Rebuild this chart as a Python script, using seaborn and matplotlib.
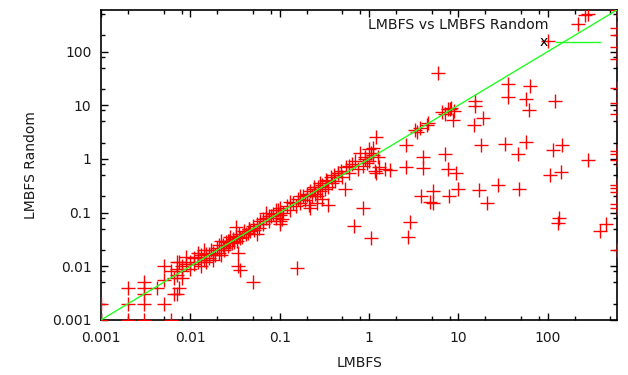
import matplotlib
matplotlib.use("Agg")
import matplotlib.pyplot as plt
import seaborn as sns
from matplotlib.ticker import LogLocator, NullFormatter, FixedLocator, FixedFormatter

# solve times (s): LMBFS vs LMBFS with random order
lmbfs = [
    0.001, 0.002, 0.003, 0.006, 0.001, 0.002, 0.002, 0.003, 0.003, 0.003,
    0.003, 0.0042, 0.005, 0.005, 0.005, 0.0065, 0.0065, 0.007, 0.0075, 0.0075,
    0.008, 0.008, 0.007, 0.006, 0.007, 0.007, 0.008, 0.009, 0.009, 0.01,
    0.01, 0.011, 0.012, 0.012, 0.013, 0.014, 0.015, 0.015, 0.016, 0.017,
    0.018, 0.019, 0.02, 0.021, 0.022, 0.023, 0.024, 0.025, 0.026, 0.027,
    0.028, 0.029, 0.03, 0.031, 0.032, 0.033, 0.035, 0.036, 0.038, 0.04,
    0.042, 0.045, 0.047, 0.05, 0.052, 0.055, 0.058, 0.06, 0.065, 0.07,
    0.075, 0.08, 0.085, 0.09, 0.095, 0.1, 0.1, 0.1, 0.1, 0.105,
    0.11, 0.12, 0.13, 0.14, 0.15, 0.16, 0.17, 0.18, 0.19, 0.2,
    0.21, 0.22, 0.23, 0.24, 0.25, 0.26, 0.27, 0.28, 0.3, 0.3,
    0.32, 0.34, 0.35, 0.37, 0.38, 0.4, 0.42, 0.45, 0.48, 0.5,
    0.55, 0.6, 0.65, 0.7, 0.75, 0.8, 0.85, 0.9, 1.0, 1.0,
    1.05, 1.1, 1.15, 1.2, 1.25, 1.3, 1.5, 1.7, 2.6, 2.6,
    3.3, 3.4, 3.7, 4.0, 4.4, 4.6, 6.6, 7.1, 7.6, 8.0,
    8.3, 8.7, 9.0, 0.011, 0.013, 0.014, 0.016, 0.018, 0.021, 0.024,
    0.026, 0.028, 0.032, 0.034, 0.034, 0.036, 0.044, 0.05, 0.056, 0.07,
    0.075, 0.1, 0.155, 0.2, 0.22, 0.26, 0.28, 0.35, 0.54, 0.68,
    0.85, 1.05, 1.2, 2.7, 2.9, 3.8, 4.0, 4.8, 5.2, 5.2,
    7.1, 7.6, 7.8, 9.5, 9.8, 5.9, 15, 15.5, 15.5, 17,
    18, 19, 21, 28, 33, 36, 36, 46, 48, 57,
    57, 62, 64, 105, 113, 120, 130, 135, 140, 146,
    280, 380, 450, 100, 215, 260, 280, 600, 600, 600,
    600, 600, 600, 600, 600, 600, 600, 600, 600, 600,
    600, 600, 600, 600, 0.012, 0.022, 0.045, 0.065,
    0.09, 0.13, 0.17, 0.24, 0.33, 0.45, 0.6, 0.9, 1.1, 0.95,
]
lmbfs_random = [
    0.001, 0.001, 0.001, 0.001, 0.002, 0.002, 0.004, 0.002, 0.003, 0.004,
    0.005, 0.004, 0.002, 0.0055, 0.01, 0.006, 0.003, 0.003, 0.004, 0.012,
    0.01, 0.006, 0.012, 0.008, 0.007, 0.009, 0.008, 0.011, 0.015, 0.009,
    0.012, 0.011, 0.015, 0.018, 0.01, 0.013, 0.017, 0.012, 0.014, 0.02,
    0.018, 0.016, 0.022, 0.018, 0.03, 0.025, 0.02, 0.028, 0.024, 0.03,
    0.035, 0.027, 0.032, 0.028, 0.036, 0.03, 0.04, 0.033, 0.035, 0.045,
    0.04, 0.05, 0.045, 0.055, 0.048, 0.06, 0.052, 0.07, 0.06, 0.08,
    0.07, 0.085, 0.095, 0.08, 0.11, 0.06, 0.07, 0.09, 0.12, 0.075,
    0.1, 0.13, 0.11, 0.15, 0.13, 0.18, 0.15, 0.2, 0.17, 0.22,
    0.14, 0.25, 0.2, 0.28, 0.22, 0.15, 0.3, 0.25, 0.33, 0.18,
    0.28, 0.38, 0.3, 0.45, 0.35, 0.5, 0.38, 0.55, 0.6, 0.45,
    0.7, 0.55, 0.8, 0.9, 0.65, 1.3, 0.75, 1.1, 1.5, 0.9,
    1.3, 1.6, 0.6, 2.6, 1.1, 0.7, 0.65, 0.63, 1.84, 0.72,
    3.5, 3.2, 3.8, 0.68, 4.3, 4.6, 7.5, 7.0, 8.4, 8.6,
    9.0, 5.2, 7.8, 0.014, 0.016, 0.02, 0.017, 0.013, 0.025, 0.022,
    0.03, 0.028, 0.054, 0.018, 0.01, 0.0085, 0.042, 0.005, 0.04, 0.1,
    0.085, 0.1, 0.0094, 0.21, 0.12, 0.2, 0.35, 0.14, 0.27, 0.057,
    0.12, 0.034, 0.55, 0.035, 0.067, 0.2, 1.1, 0.16, 0.25, 0.15,
    1.25, 0.65, 0.2, 0.55, 0.28, 40, 4.3, 12, 9.6, 0.26,
    1.8, 5.8, 0.15, 0.33, 1.9, 25, 14.5, 1.25, 0.28, 2.1,
    13, 8, 23, 0.51, 1.45, 12.1, 0.065, 0.08, 0.57, 1.8,
    0.94, 0.045, 0.06, 155, 330, 470, 490, 600, 270, 200,
    124, 74, 21, 11, 7, 1.4, 1.25, 0.97, 0.33, 0.29,
    0.24, 0.145, 0.12, 0.02, 0.012, 0.016, 0.05, 0.075,
    0.11, 0.16, 0.2, 0.3, 0.4, 0.55, 0.75, 1.0, 1.2, 0.85,
]
diagonal = [0.001, 600]

fig = plt.figure(figsize=(6.28, 3.75), dpi=100)
ax = fig.add_axes([0.161, 0.147, 0.822, 0.827])

sns.scatterplot(x=lmbfs, y=lmbfs_random, marker="+", color="#ff0000",
                s=110, linewidth=1.0, ax=ax, legend=False, zorder=3)
sns.lineplot(x=diagonal, y=diagonal, color="#22ff22", linewidth=1.0,
             ax=ax, label="x", zorder=4)

ax.set_xscale("log")
ax.set_yscale("log")
ax.set_xlim(0.001, 600)
ax.set_ylim(0.001, 600)

ticks = [0.001, 0.01, 0.1, 1, 10, 100]
labels = ["0.001", "0.01", "0.1", "1", "10", "100"]
for axis in (ax.xaxis, ax.yaxis):
    axis.set_major_locator(FixedLocator(ticks))
    axis.set_major_formatter(FixedFormatter(labels))
    axis.set_minor_locator(LogLocator(base=10, subs=(2, 5, 8)))
    axis.set_minor_formatter(NullFormatter())

ax.tick_params(which="both", direction="in", top=True, right=True,
               colors="black", labelsize=10, labelcolor="#1a1a1a")
ax.tick_params(which="major", length=5, width=1)
ax.tick_params(which="minor", length=3, width=1)
ax.tick_params(axis="x", which="major", pad=8)
ax.tick_params(axis="y", which="major", pad=7)
for sp in ax.spines.values():
    sp.set_linewidth(1.2)
    sp.set_color("black")

ax.set_xlabel("LMBFS", fontsize=10, labelpad=8, color="#1a1a1a")
ax.set_ylabel("LMBFS Random", fontsize=10, labelpad=10, color="#1a1a1a")

ax.text(0.867, 0.952, "LMBFS vs LMBFS Random", transform=ax.transAxes,
        ha="right", va="center", fontsize=10.2, color="#1a1a1a")
ax.legend(loc="upper right", bbox_to_anchor=(0.967, 0.917), frameon=False,
          markerfirst=False, handlelength=3.2, fontsize=10,
          borderpad=0, borderaxespad=0, handletextpad=0.6)

fig.savefig("out.png", dpi=100)
